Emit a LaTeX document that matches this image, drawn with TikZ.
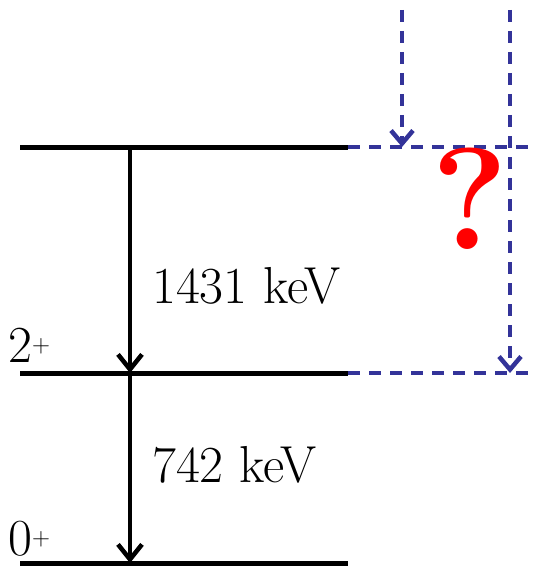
\documentclass[tikz,border=0pt]{standalone}
\usetikzlibrary{arrows.meta}
\definecolor{dblue}{RGB}{51,51,153}
\definecolor{qred}{RGB}{255,0,0}
\begin{document}
\begin{tikzpicture}[x=1pt,y=-1pt,
  level/.style={line width=5pt},
  gline/.style={line width=4.5pt,-{Straight Barb[length=15pt,width=24pt,line width=4.5pt]}},
  dline/.style={dblue,line width=4.8pt,dash pattern=on 12pt off 9pt},
  darrow/.style={dline,-{Straight Barb[length=13pt,width=22pt,line width=4.5pt]}},
  lbl/.style={inner sep=0pt,font=\fontsize{52}{56}\selectfont},
  qmark/.style={inner sep=0pt,text=qred,font=\fontsize{145}{150}\selectfont\bfseries}]
\useasboundingbox (0,0) rectangle (535,567);
% level coordinates
\coordinate (l2L) at (20,147);
\coordinate (l2M) at (348,147);
\coordinate (l2R) at (535,147);
\coordinate (l1L) at (20,373);
\coordinate (l1M) at (348,373);
\coordinate (l1R) at (535,373);
\coordinate (l0L) at (20,563);
\coordinate (l0M) at (348,563);
\coordinate (g2) at (130,150);
\coordinate (g1) at (130,373);
\coordinate (g0) at (130,563);
\coordinate (a1s) at (402,10);
\coordinate (a1e) at (402,147);
\coordinate (a2s) at (510,10);
\coordinate (a2e) at (510,373);
% levels
\draw[level] (l2L) -- (l2M);
\draw[level] (l1L) -- (l1M);
\draw[level] (l0L) -- (l0M);
\draw[dline] (l2M) -- (l2R);
\draw[dline] (l1M) -- (l1R);
% gamma transitions
\draw[gline] (g2) -- (g1);
\draw[gline] (g1) -- (g0);
% feeding transitions
\draw[darrow] (a1s) -- (a1e);
\draw[darrow] (a2s) -- (a2e);
% labels
\node[lbl,anchor=base west] (e1) at (152,303) {1431 keV};
\node[lbl,anchor=base west] (e2) at (152,482) {742 keV};
\node[lbl,anchor=base west] (s2) at (8,362) {2$^{+}$};
\node[lbl,anchor=base west] (s0) at (8,555) {0$^{+}$};
\node[qmark,anchor=base] (q) at (470,249) {?};
\end{tikzpicture}
\end{document}
